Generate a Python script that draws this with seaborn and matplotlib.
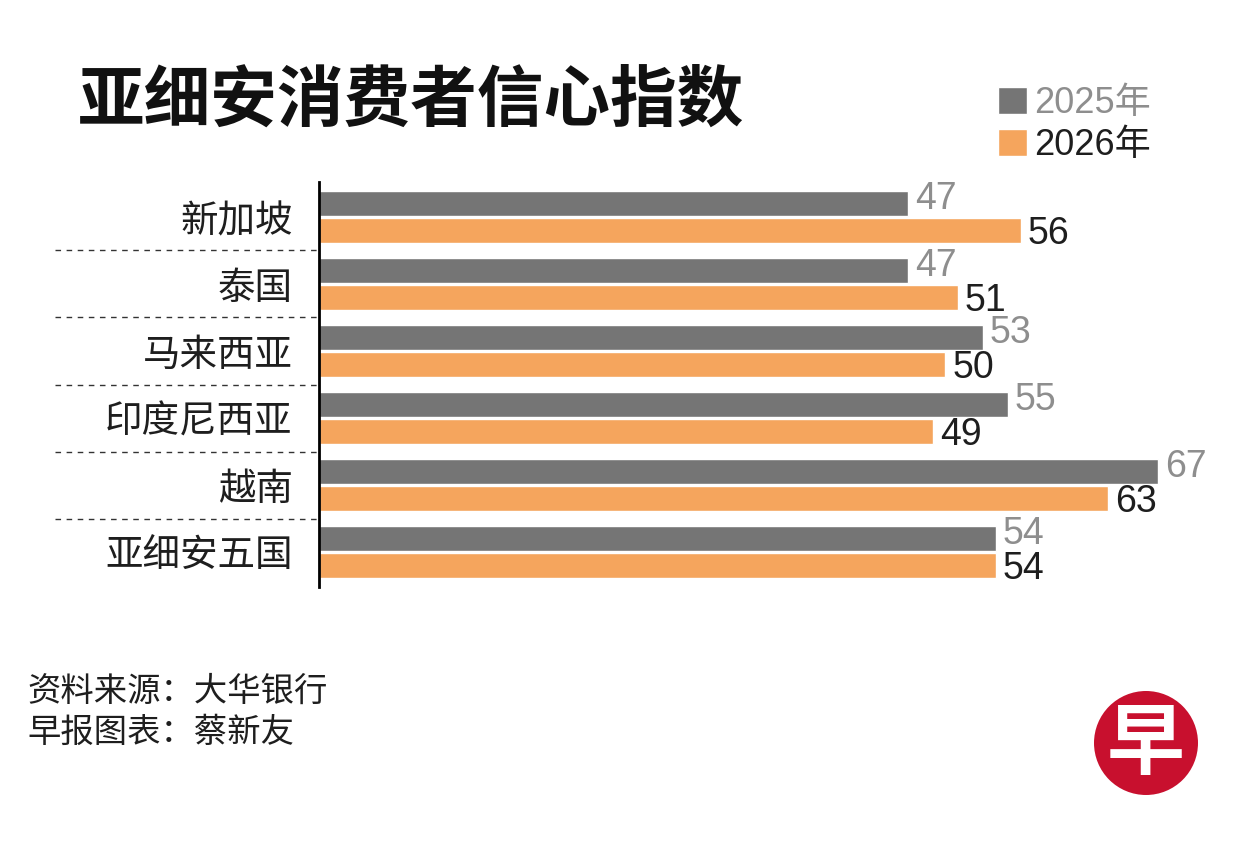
import pandas as pd
import matplotlib
matplotlib.use("Agg")
import matplotlib.pyplot as plt
from matplotlib.patches import Circle
import seaborn as sns

# data
regions = ["新加坡", "泰国", "马来西亚", "印度尼西亚", "越南", "亚细安五国"]
years = ["2025年", "2026年"]
values_2025 = [47, 47, 53, 55, 67, 54]
values_2026 = [56, 51, 50, 49, 63, 54]

title = "亚细安消费者信心指数"
source_lines = ["资料来源：大华银行", "早报图表：蔡新友"]

GRAY = "#757575"
ORANGE = "#F5A55D"
LABEL_GRAY = "#8E8E8E"
DARK = "#1E1E1E"

df = pd.DataFrame({
    "region": regions * 2,
    "year": [years[0]] * len(regions) + [years[1]] * len(regions),
    "value": values_2025 + values_2026,
})

sns.set_theme(style="white")
plt.rcParams["font.family"] = ["Liberation Sans", "Noto Sans CJK SC", "DejaVu Sans"]

W, H = 1251, 847
fig = plt.figure(figsize=(W / 100, H / 100), dpi=100)
fig.patch.set_facecolor("white")

# axes placed in pixel terms: left 319, top 182, bottom 587
ax_left, ax_right, ax_top, ax_bottom = 319, 1196, 182, 587
ax = fig.add_axes([ax_left / W, 1 - ax_bottom / H,
                   (ax_right - ax_left) / W, (ax_bottom - ax_top) / H])

sns.barplot(data=df, y="region", x="value", hue="year", order=regions,
            hue_order=years, palette=[GRAY, ORANGE], saturation=1,
            width=0.8, gap=0.09, orient="h", ax=ax)

ax.set_xlim(0, 70)
ax.set_ylim(len(regions) - 0.5 + 0.022, -0.5 - 0.022)
ax.set_xlabel("")
ax.set_ylabel("")
ax.set_xticks([])
for s in ["top", "right", "bottom"]:
    ax.spines[s].set_visible(False)
ax.spines["left"].set_color("black")
ax.spines["left"].set_linewidth(2)
ax.tick_params(axis="y", length=0, pad=19, labelsize=27, labelcolor=DARK)
for lab in ax.get_yticklabels():
    lab.set_family(["Noto Sans CJK SC", "DejaVu Sans"])

# value labels, 2025 nudged up and 2026 nudged down as in the reference
lab25 = ax.bar_label(ax.containers[0], padding=5, fontsize=27, color=LABEL_GRAY)
lab26 = ax.bar_label(ax.containers[1], padding=5, fontsize=27, color=DARK)
for t in lab25:
    t.xyann = (5, 3)
for t in lab26:
    t.xyann = (5, -2.5)

# dashed separators left of the axis
for i in range(len(regions) - 1):
    ax.axhline(i + 0.5, xmin=-(ax_left - 55) / (ax_right - ax_left), xmax=0,
               color="#333333", lw=1, ls=(0, (4, 4)), clip_on=False)

# legend top right
handles, labels = ax.get_legend_handles_labels()
leg = ax.legend(handles, labels, loc="upper left",
                bbox_to_anchor=(980 / W, 1 - 68 / H), bbox_transform=fig.transFigure,
                frameon=False, fontsize=26, handlelength=0.8, handleheight=0.75,
                handletextpad=0.2, labelspacing=0.2, borderpad=0,
                labelcolor=[LABEL_GRAY, DARK])

# title
fig.text(78 / W, 1 - 101 / H, title, fontsize=48, fontweight="bold",
         color="#111111", va="center", ha="left",
         family=["Noto Sans CJK SC", "DejaVu Sans"])

# source lines
for k, line in enumerate(source_lines):
    fig.text(27 / W, 1 - (691 + 41 * k) / H, line, fontsize=24, color=DARK,
             va="center", ha="left", family=["Noto Sans CJK SC", "DejaVu Sans"])

# logo (drawn in inches so it stays round)
cx, cy, r = 1146, 743, 52
fig.add_artist(Circle((cx / 100, (H - cy) / 100), r / 100,
                      transform=fig.dpi_scale_trans,
                      facecolor="#C8102E", edgecolor="none"))
fig.text(cx / W, 1 - (cy + 2) / H, "早", fontsize=56, fontweight="bold",
         color="white", ha="center", va="center",
         family=["Noto Sans CJK SC", "DejaVu Sans"])

fig.savefig("out.png", dpi=100)
